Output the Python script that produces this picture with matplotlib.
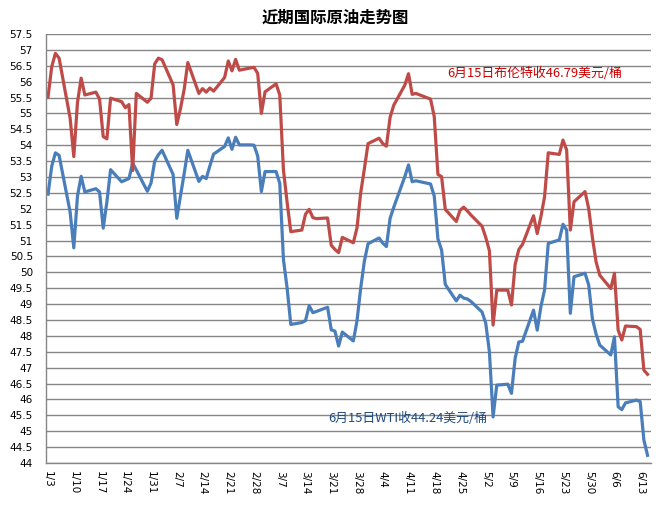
import numpy as np
import pandas as pd
import matplotlib
matplotlib.use("Agg")
import matplotlib.pyplot as plt
import matplotlib.dates as mdates

plt.rcParams['font.family'] = ['DejaVu Sans', 'Noto Sans CJK SC']

# trading days, 2017
dates = [
    '01-03', '01-04', '01-05', '01-06', '01-09', '01-10', '01-11', '01-12', '01-13', '01-16',
    '01-17', '01-18', '01-19', '01-20', '01-23', '01-24', '01-25', '01-26', '01-27', '01-30', '01-31',
    '02-01', '02-02', '02-03', '02-06', '02-07', '02-08', '02-09', '02-10', '02-13', '02-14',
    '02-15', '02-16', '02-17', '02-20', '02-21', '02-22', '02-23', '02-24', '02-27', '02-28',
    '03-01', '03-02', '03-03', '03-06', '03-07', '03-08', '03-09', '03-10', '03-13', '03-14',
    '03-15', '03-16', '03-17', '03-20', '03-21', '03-22', '03-23', '03-24', '03-27', '03-28',
    '03-29', '03-30', '03-31',
    '04-03', '04-04', '04-05', '04-06', '04-07', '04-10', '04-11', '04-12', '04-13', '04-17',
    '04-18', '04-19', '04-20', '04-21', '04-24', '04-25', '04-26', '04-27', '04-28',
    '05-01', '05-02', '05-03', '05-04', '05-05', '05-08', '05-09', '05-10', '05-11', '05-12',
    '05-15', '05-16', '05-17', '05-18', '05-19', '05-22', '05-23', '05-24', '05-25', '05-26',
    '05-29', '05-30', '05-31',
    '06-01', '06-02', '06-05', '06-06', '06-07', '06-08', '06-09', '06-12', '06-13', '06-14', '06-15',
]

brent = [
    55.52, 56.47, 56.89, 56.74, 54.85, 53.64, 55.35, 56.11, 55.58, 55.67,
    55.45, 54.27, 54.20, 55.48, 55.37, 55.18, 55.28, 53.20, 55.63, 55.35, 55.48,
    56.56, 56.74, 56.69, 55.90, 54.65, 55.15, 55.75, 56.60, 55.63, 55.78,
    55.67, 55.80, 55.70, 56.13, 56.65, 56.34, 56.70, 56.36, 56.43, 56.45,
    56.26, 55.00, 55.68, 55.93, 55.58, 53.22, 52.20, 51.28, 51.33, 51.83,
    51.98, 51.72, 51.69, 51.71, 50.85, 50.72, 50.62, 51.10, 50.93, 51.40,
    52.50, 53.25, 54.05,
    54.22, 54.05, 53.97, 54.88, 55.26, 55.89, 56.25, 55.60, 55.63, 55.45,
    54.90, 53.08, 53.01, 51.98, 51.60, 51.95, 52.05, 51.93, 51.80,
    51.45, 51.10, 50.68, 48.34, 49.44, 49.44, 48.97, 50.25, 50.72, 50.88,
    51.78, 51.22, 51.75, 52.38, 53.76, 53.71, 54.16, 53.85, 51.33, 52.22,
    52.54, 52.00, 51.10,
    50.33, 49.91, 49.49, 49.97, 48.18, 47.87, 48.31, 48.29, 48.20, 46.92, 46.79,
]

wti = [
    52.46, 53.34, 53.76, 53.68, 51.90, 50.77, 52.40, 53.02, 52.53, 52.63,
    52.53, 51.39, 52.22, 53.23, 52.85, 52.90, 52.95, 53.44, 53.22, 52.55, 52.81,
    53.50, 53.70, 53.84, 53.08, 51.70, 52.40, 53.10, 53.84, 52.86, 53.02,
    52.95, 53.35, 53.72, 53.96, 54.23, 53.87, 54.25, 54.01, 54.01, 54.00,
    53.66, 52.54, 53.17, 53.17, 52.80, 50.40, 49.50, 48.36, 48.42, 48.48,
    48.95, 48.73, 48.77, 48.90, 48.19, 48.15, 47.68, 48.12, 47.84, 48.47,
    49.50, 50.35, 50.90,
    51.08, 50.92, 50.81, 51.70, 52.05, 53.01, 53.38, 52.85, 52.88, 52.78,
    52.40, 51.05, 50.70, 49.62, 49.10, 49.28, 49.19, 49.16, 49.08,
    48.75, 48.40, 47.50, 45.45, 46.45, 46.48, 46.19, 47.30, 47.81, 47.83,
    48.81, 48.18, 48.92, 49.45, 50.91, 51.02, 51.51, 51.33, 48.71, 49.86,
    49.97, 49.60, 48.54,
    48.06, 47.71, 47.40, 47.97, 45.77, 45.68, 45.89, 45.98, 45.93, 44.72, 44.24,
]

title = '近期国际原油走势图'
brent_note = '6月15日布伦特收46.79美元/桶'
wti_note = '6月15日WTI收44.24美元/桶'

x = pd.to_datetime(['2017-' + d for d in dates])
start = pd.Timestamp('2017-01-03')
ticks = [start + pd.Timedelta(days=7 * i) for i in range(24)]

fig = plt.figure(figsize=(6.71, 5.07), dpi=100)
ax = fig.add_axes([0.0686, 0.0868, 0.9014, 0.8462])

ax.set_yticks(np.arange(44, 57.51, 0.5))
ax.yaxis.grid(True, color='#868686', linewidth=1.0)
ax.set_axisbelow(True)

ax.plot(x, wti, color='#4A7EBB', linewidth=2.3, solid_joinstyle='round')
ax.plot(x, brent, color='#BE4B48', linewidth=2.3, solid_joinstyle='round')

ax.set_ylim(44, 57.5)
ax.set_xlim(start - pd.Timedelta(days=0.55), start + pd.Timedelta(days=163.9))
ax.set_xticks(ticks)
ax.xaxis.set_major_formatter(mdates.DateFormatter('%-m/%-d'))
ax.tick_params(axis='x', length=0, pad=6, labelsize=7.5, labelrotation=270)
ax.tick_params(axis='y', length=0, pad=9.5, labelsize=7.5)
ax.set_yticklabels(['%g' % v for v in np.arange(44, 57.51, 0.5)])

for s in ['top', 'right']:
    ax.spines[s].set_visible(False)
for s in ['left', 'bottom']:
    ax.spines[s].set_color('#868686')
    ax.spines[s].set_linewidth(1.0)

fig.text(0.5, 0.966, title, ha='center', va='center', fontsize=11.8,
         fontweight='bold', family=['Noto Sans CJK SC', 'DejaVu Sans'])
ax.text(0.663, 0.909, brent_note, transform=ax.transAxes, ha='left', va='center',
        fontsize=9.3, color='#CC0000', family=['Noto Sans CJK SC', 'DejaVu Sans'])
ax.text(0.466, 0.105, wti_note, transform=ax.transAxes, ha='left', va='center',
        fontsize=9.3, color='#1F497D', family=['Noto Sans CJK SC', 'DejaVu Sans'])

fig.savefig('out.png', dpi=100)
